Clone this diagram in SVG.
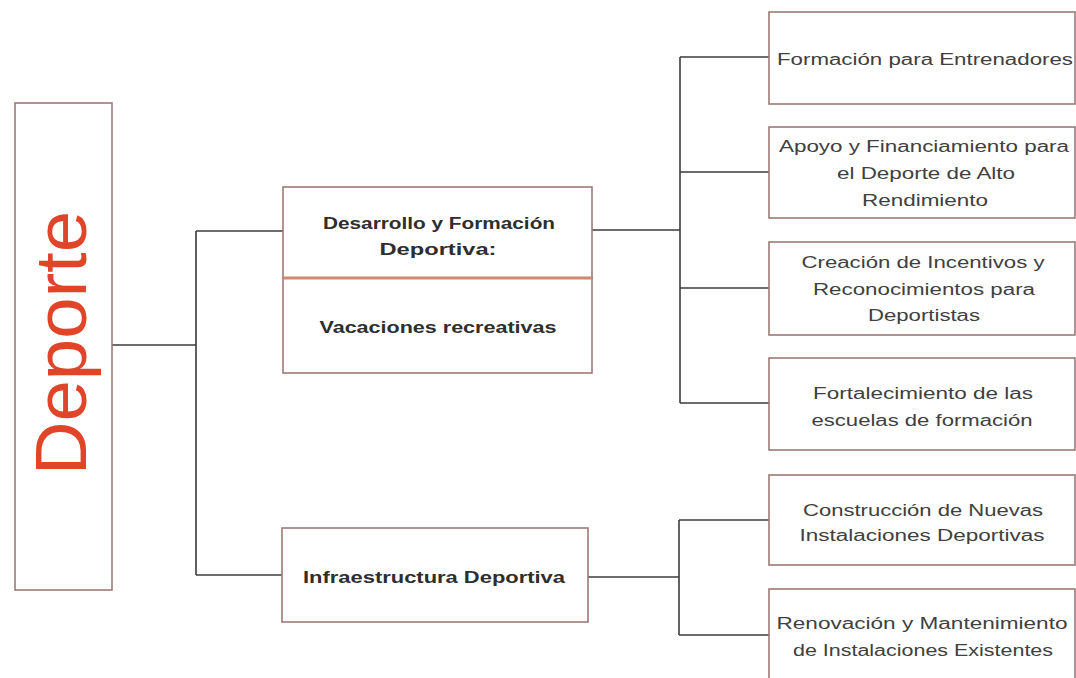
<svg xmlns="http://www.w3.org/2000/svg" width="1076" height="678" viewBox="0 0 1076 678">
<style>
.box{fill:#fff;stroke:#9c7a76;stroke-width:1.6}
.t{font-family:"Liberation Sans",Arial,sans-serif;font-size:16px;fill:#404040;text-anchor:middle;dominant-baseline:central}
.b{font-family:"Liberation Sans",Arial,sans-serif;font-size:16px;font-weight:bold;fill:#2e2e2e;text-anchor:middle;dominant-baseline:central}
.c{fill:none;stroke:#3c3c3c;stroke-width:1.6}
</style>
<rect width="1076" height="678" fill="#fff"/>
<g id="connectors">
<path class="c" d="M112,345 H196 M196,231 V575 M196,231 H283 M196,575 H282"/>
<path class="c" d="M592,230 H680 M680,57 V403 M680,57 H769 M680,172 H769 M680,288 H769 M680,403 H769"/>
<path class="c" d="M588,577 H679 M679,520 V635 M679,520 H769 M679,635 H769"/>
</g>
<g id="deporte">
<rect class="box" x="15" y="103" width="97" height="487"/>
<text transform="translate(86,343) rotate(-90)" font-family="'Liberation Sans',Arial,sans-serif" font-size="72" fill="#e0452a" text-anchor="middle" textLength="264" lengthAdjust="spacingAndGlyphs">Deporte</text>
</g>
<g id="desarrollo">
<rect class="box" x="283" y="187" width="309" height="91"/>
<text class="b" x="439" y="223" textLength="232" lengthAdjust="spacingAndGlyphs">Desarrollo y Formación</text>
<text class="b" x="438" y="249" textLength="117" lengthAdjust="spacingAndGlyphs">Deportiva:</text>
</g>
<g id="vacaciones">
<rect class="box" x="283" y="278" width="309" height="95"/>
<line x1="283" y1="278" x2="592" y2="278" stroke="#d08a70" stroke-width="3"/>
<text class="b" x="438" y="327" textLength="237" lengthAdjust="spacingAndGlyphs">Vacaciones recreativas</text>
</g>
<g id="infraestructura">
<rect class="box" x="282" y="528" width="306" height="94"/>
<text class="b" x="434" y="577" textLength="262" lengthAdjust="spacingAndGlyphs">Infraestructura Deportiva</text>
</g>
<g id="formacion-entrenadores">
<rect class="box" x="769" y="12" width="306" height="92"/>
<text class="t" x="925" y="59" textLength="296" lengthAdjust="spacingAndGlyphs">Formación para Entrenadores</text>
</g>
<g id="apoyo">
<rect class="box" x="769" y="127" width="306" height="91"/>
<text class="t" x="924" y="146" textLength="290" lengthAdjust="spacingAndGlyphs">Apoyo y Financiamiento para</text>
<text class="t" x="926" y="173" textLength="178" lengthAdjust="spacingAndGlyphs">el Deporte de Alto</text>
<text class="t" x="925" y="200" textLength="126" lengthAdjust="spacingAndGlyphs">Rendimiento</text>
</g>
<g id="creacion">
<rect class="box" x="769" y="242" width="306" height="93"/>
<text class="t" x="923" y="262" textLength="243" lengthAdjust="spacingAndGlyphs">Creación de Incentivos y</text>
<text class="t" x="924" y="289" textLength="222" lengthAdjust="spacingAndGlyphs">Reconocimientos para</text>
<text class="t" x="924" y="315" textLength="112" lengthAdjust="spacingAndGlyphs">Deportistas</text>
</g>
<g id="fortalecimiento">
<rect class="box" x="769" y="358" width="306" height="92"/>
<text class="t" x="923" y="393" textLength="220" lengthAdjust="spacingAndGlyphs">Fortalecimiento de las</text>
<text class="t" x="922" y="420" textLength="221" lengthAdjust="spacingAndGlyphs">escuelas de formación</text>
</g>
<g id="construccion">
<rect class="box" x="769" y="475" width="306" height="90"/>
<text class="t" x="923" y="510" textLength="240" lengthAdjust="spacingAndGlyphs">Construcción de Nuevas</text>
<text class="t" x="922" y="535" textLength="245" lengthAdjust="spacingAndGlyphs">Instalaciones Deportivas</text>
</g>
<g id="renovacion">
<rect class="box" x="769" y="589" width="306" height="100"/>
<text class="t" x="922" y="623" textLength="291" lengthAdjust="spacingAndGlyphs">Renovación y Mantenimiento</text>
<text class="t" x="923" y="650" textLength="260" lengthAdjust="spacingAndGlyphs">de Instalaciones Existentes</text>
</g>
</svg>
